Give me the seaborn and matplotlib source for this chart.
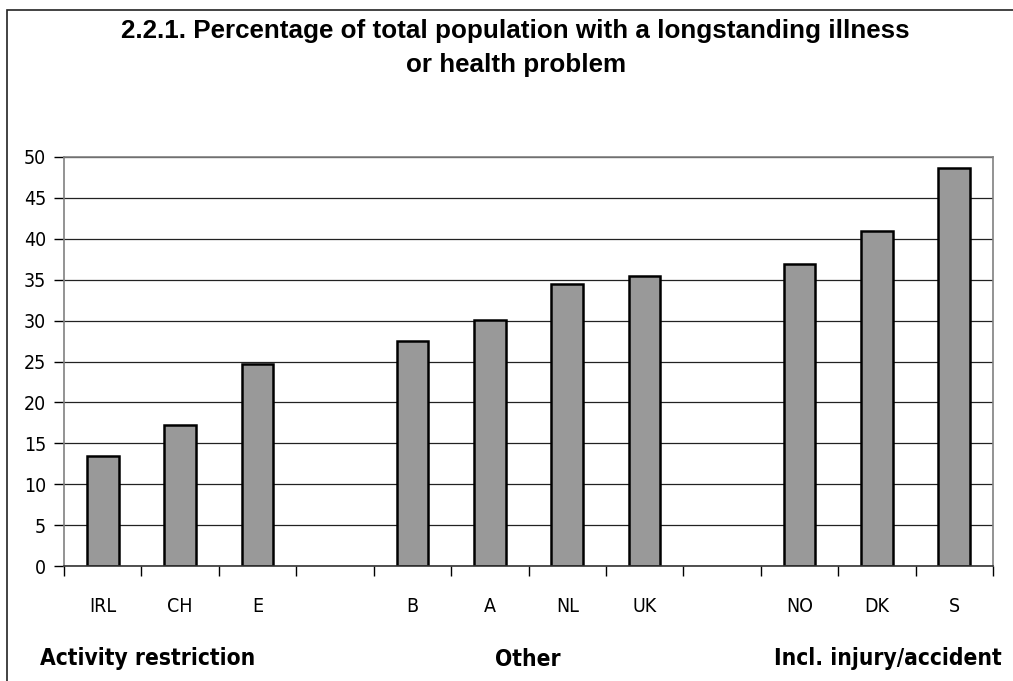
import matplotlib
matplotlib.use("Agg")
import matplotlib.pyplot as plt
from matplotlib import font_manager
from matplotlib.font_manager import FontProperties
from matplotlib.patches import Rectangle
from matplotlib.ticker import FixedLocator
import seaborn as sns
import pandas as pd

# Countries in display order; blank slots separate the three groups
slots = ["IRL", "CH", "E", " ", "B", "A", "NL", "UK", "  ", "NO", "DK", "S"]
countries = ["IRL", "CH", "E", "B", "A", "NL", "UK", "NO", "DK", "S"]
values = [13.4, 17.2, 24.7, 27.5, 30.1, 34.5, 35.5, 36.9, 41.0, 48.7]
groups = ["Activity restriction", "Other", "Incl. injury/accident"]
y_ticks = [0, 5, 10, 15, 20, 25, 30, 35, 40, 45, 50]
title_lines = ["2.2.1. Percentage of total population with a longstanding illness",
               "or health problem"]

sns.set_theme(style="white")
plt.rcParams["font.family"] = ["Liberation Sans", "DejaVu Sans"]
plt.rcParams["text.color"] = "black"


def find_narrow(bold):
    """Return FontProperties for an installed narrow/condensed sans face."""
    best = None
    for f in font_manager.fontManager.ttflist:
        is_narrow = ("Narrow" in f.name or "Condensed" in f.name
                     or f.stretch in ("condensed", "semi-condensed", "extra-condensed")
                     or "Condensed" in f.fname or "Narrow" in f.fname)
        if not is_narrow or f.style != "normal":
            continue
        w = f.weight if isinstance(f.weight, int) else (700 if "bold" in str(f.weight) else 400)
        if (w >= 600) != bold:
            continue
        score = 0 if ("Liberation" in f.name or "Liberation" in f.fname) else 1
        if best is None or score < best[0]:
            best = (score, f.fname)
    if best:
        return FontProperties(fname=best[1])
    return FontProperties(family="Liberation Sans", weight="bold" if bold else "normal")


narrow_reg = find_narrow(False)
narrow_bold = find_narrow(True)

df = pd.DataFrame({"country": countries, "value": values})

fig = plt.figure(figsize=(10.13, 6.81), dpi=100)
fig.patch.set_facecolor("white")
ax = fig.add_axes([64 / 1013, 1 - 566 / 681, (993 - 64) / 1013, (566 - 157) / 681])

sns.barplot(data=df, x="country", y="value", order=slots, color="#999999",
            saturation=1, width=0.41, edgecolor="black", linewidth=1.8, ax=ax)

ax.set_ylim(0, 50)
ax.set_xlim(-0.5, len(slots) - 0.5)
ax.set_yticks(y_ticks)
ax.set_xlabel("")
ax.set_ylabel("")
ax.yaxis.grid(True, color="#222222", linewidth=0.9)
ax.set_axisbelow(True)

# Tick marks sit on slot boundaries, labels at slot centres
ax.xaxis.set_minor_locator(FixedLocator([i - 0.5 for i in range(len(slots) + 1)]))
ax.tick_params(axis="x", which="major", length=0, pad=22)
ax.tick_params(axis="x", which="minor", length=7, width=1, color="black", direction="out", bottom=True)
ax.tick_params(axis="y", which="major", length=7, width=1, color="black", direction="out", left=True, pad=6)

for lbl in ax.get_xticklabels() + ax.get_yticklabels():
    lbl.set_fontproperties(narrow_reg)
    lbl.set_fontsize(14)
    lbl.set_color("black")

for side in ["top", "right", "left"]:
    ax.spines[side].set_color("#808080")
    ax.spines[side].set_linewidth(1.2)
ax.spines["bottom"].set_color("#333333")
ax.spines["bottom"].set_linewidth(1.2)

fig.text(0.509, 1 - 31 / 681, title_lines[0], ha="center", va="center",
         fontsize=18.7, fontweight="bold", color="black")
fig.text(0.509, 1 - 65 / 681, title_lines[1], ha="center", va="center",
         fontsize=18.7, fontweight="bold", color="black")

gy = 1 - 659 / 681
for text, x, ha in zip(groups, [40 / 1013, 528 / 1013, 1002 / 1013], ["left", "center", "right"]):
    t = fig.text(x, gy, text, ha=ha, va="center", color="black")
    t.set_fontproperties(narrow_bold)
    t.set_fontsize(16.3)

# Chart frame running off the right and bottom edges
fig.patches.append(Rectangle((7 / 1013, -0.05), 1.2, 1 - 10 / 681 + 0.05,
                             transform=fig.transFigure, fill=False,
                             edgecolor="#222222", linewidth=1.2))

fig.savefig("out.png", dpi=100, facecolor="white")
